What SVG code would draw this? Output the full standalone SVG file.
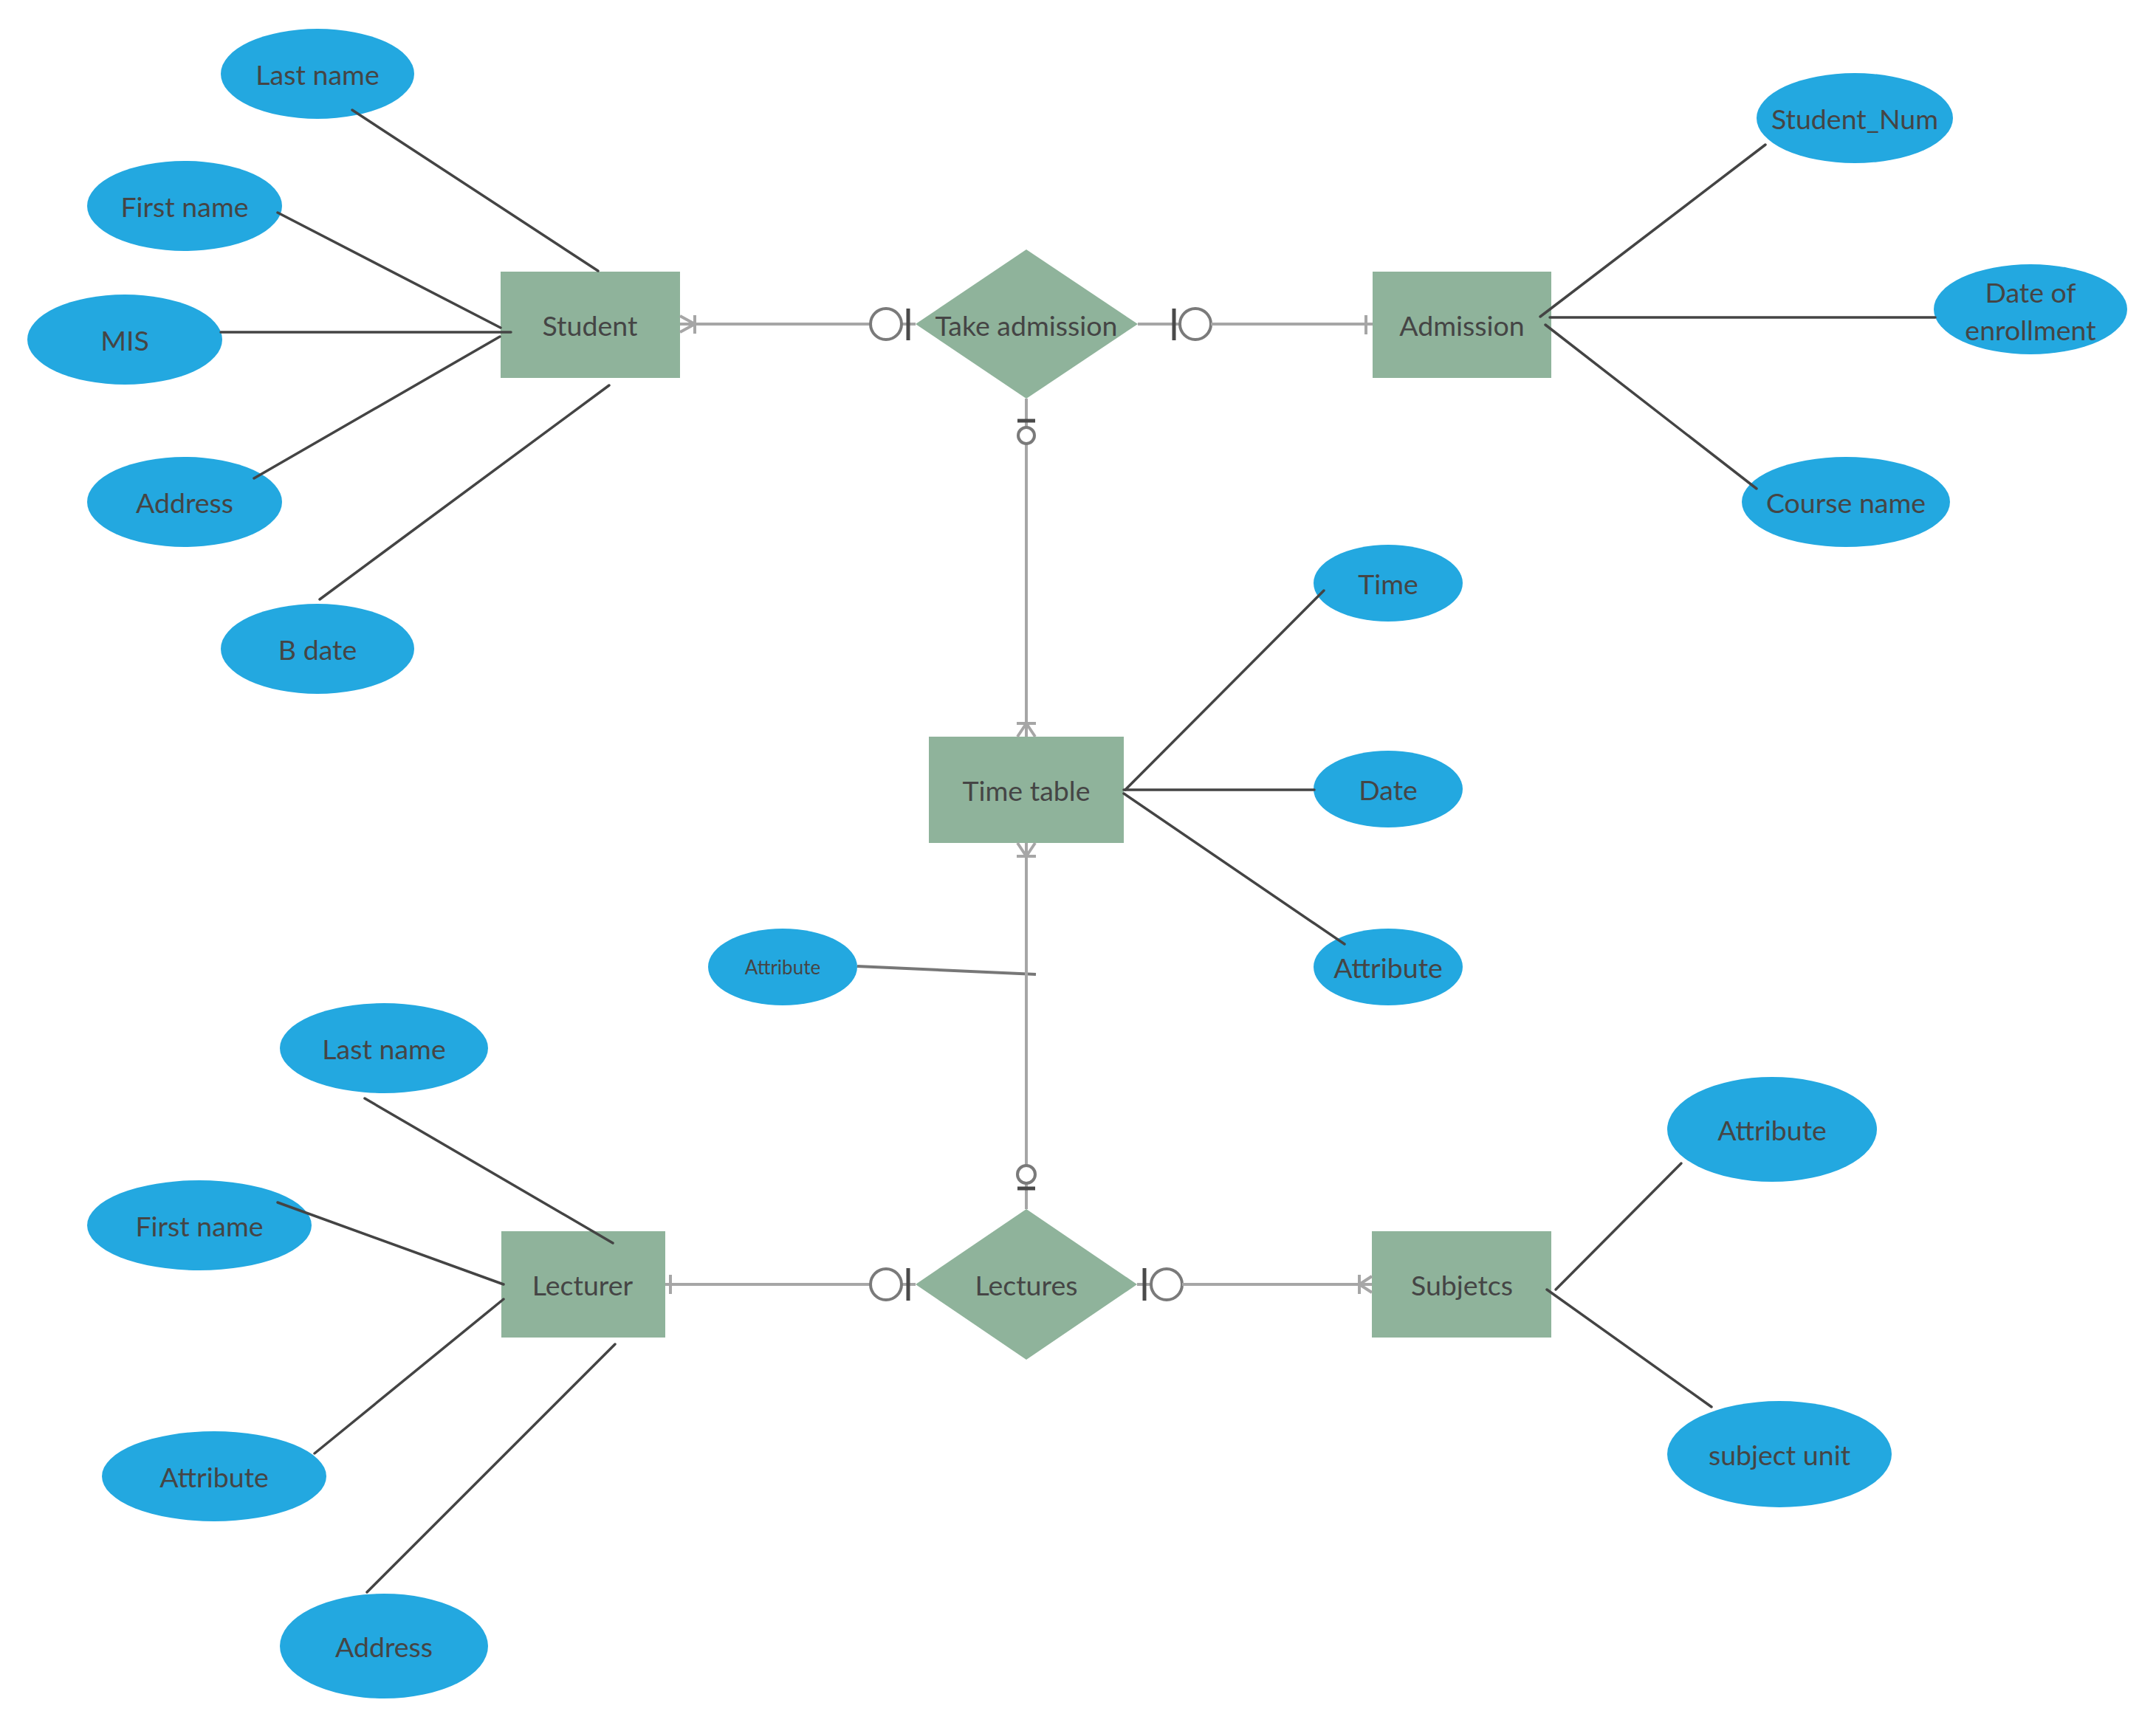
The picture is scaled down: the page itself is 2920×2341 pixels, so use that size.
<svg xmlns="http://www.w3.org/2000/svg" width="2920" height="2341" viewBox="0 0 2920 2341">
<style>
.attr{fill:#23a8e0}
.ent{fill:#8fb39b}
.t{font-family:Lato,"Open Sans","Liberation Sans",sans-serif;font-size:37.5px;fill:#454545;text-anchor:middle;dominant-baseline:central}
.ts{font-size:26px}
.al{stroke:#444;stroke-width:3.5;fill:none;stroke-linecap:round}
.rl{stroke:#a6a6a6;stroke-width:4;fill:none}
.circ{stroke:#7a7a7a;stroke-width:4;fill:#fff}
.bar{stroke:#4a4a4a;stroke-width:5}
.gbar{stroke:#a6a6a6;stroke-width:4}
</style>
<rect width="2920" height="2341" fill="#fff"/>

<!-- Entities -->
<g id="student"><rect class="ent" x="678" y="368" width="243" height="144"/><text class="t" x="799" y="440">Student</text></g>
<g id="take-admission"><polygon class="ent" points="1240,439 1390,338 1541,439 1390,540"/><text class="t" x="1390" y="440">Take  admission</text></g>
<g id="admission"><rect class="ent" x="1859" y="368" width="242" height="144"/><text class="t" x="1980" y="440">Admission</text></g>
<g id="time-table"><rect class="ent" x="1258" y="998" width="264" height="144"/><text class="t" x="1390" y="1070">Time table</text></g>
<g id="lecturer"><rect class="ent" x="679" y="1668" width="222" height="144"/><text class="t" x="789" y="1740">Lecturer</text></g>
<g id="lectures"><polygon class="ent" points="1240,1740 1390,1638 1540,1740 1390,1842"/><text class="t" x="1390" y="1740">Lectures</text></g>
<g id="subjetcs"><rect class="ent" x="1858" y="1668" width="243" height="144"/><text class="t" x="1980" y="1740">Subjetcs</text></g>

<!-- Attributes: Student -->
<g id="s-lastname"><ellipse class="attr" cx="430" cy="100" rx="131" ry="61"/><text class="t" x="430" y="100">Last name</text></g>
<g id="s-firstname"><ellipse class="attr" cx="250" cy="279" rx="132" ry="61"/><text class="t" x="250" y="279">First name</text></g>
<g id="s-mis"><ellipse class="attr" cx="169" cy="460" rx="132" ry="61"/><text class="t" x="169" y="460">MIS</text></g>
<g id="s-address"><ellipse class="attr" cx="250" cy="680" rx="132" ry="61"/><text class="t" x="250" y="680">Address</text></g>
<g id="s-bdate"><ellipse class="attr" cx="430" cy="879" rx="131" ry="61"/><text class="t" x="430" y="879">B date</text></g>

<!-- Attributes: Admission -->
<g id="a-studentnum"><ellipse class="attr" cx="2512" cy="160" rx="133" ry="61"/><text class="t" x="2512" y="160">Student_Num</text></g>
<g id="a-date"><ellipse class="attr" cx="2750" cy="419" rx="131" ry="61"/><text class="t" x="2750" y="395">Date of</text><text class="t" x="2750" y="446">enrollment</text></g>
<g id="a-course"><ellipse class="attr" cx="2500" cy="680" rx="141" ry="61"/><text class="t" x="2500" y="680">Course name</text></g>

<!-- Attributes: Time table -->
<g id="t-time"><ellipse class="attr" cx="1880" cy="790" rx="101" ry="52"/><text class="t" x="1880" y="790">Time</text></g>
<g id="t-date"><ellipse class="attr" cx="1880" cy="1069" rx="101" ry="52"/><text class="t" x="1880" y="1069">Date</text></g>
<g id="t-attr"><ellipse class="attr" cx="1880" cy="1310" rx="101" ry="52"/><text class="t" x="1880" y="1310">Attribute</text></g>
<g id="t-attr2"><ellipse class="attr" cx="1060" cy="1310" rx="101" ry="52"/><text class="t ts" x="1060" y="1310">Attribute</text></g>

<!-- Attributes: Lecturer -->
<g id="l-lastname"><ellipse class="attr" cx="520" cy="1420" rx="141" ry="61"/><text class="t" x="520" y="1420">Last name</text></g>
<g id="l-firstname"><ellipse class="attr" cx="270" cy="1660" rx="152" ry="61"/><text class="t" x="270" y="1660">First name</text></g>
<g id="l-attr"><ellipse class="attr" cx="290" cy="2000" rx="152" ry="61"/><text class="t" x="290" y="2000">Attribute</text></g>
<g id="l-address"><ellipse class="attr" cx="520" cy="2230" rx="141" ry="71"/><text class="t" x="520" y="2230">Address</text></g>

<!-- Attributes: Subjetcs -->
<g id="sub-attr"><ellipse class="attr" cx="2400" cy="1530" rx="142" ry="71"/><text class="t" x="2400" y="1530">Attribute</text></g>
<g id="sub-unit"><ellipse class="attr" cx="2410" cy="1970" rx="152" ry="72"/><text class="t" x="2410" y="1970">subject unit</text></g>

<g id="connectors">
  <!-- attribute lines: Student -->
  <line class="al" x1="477" y1="149" x2="810" y2="367"/>
  <line class="al" x1="376" y1="288" x2="678" y2="444"/>
  <line class="al" x1="299" y1="450" x2="692" y2="450"/>
  <line class="al" x1="344" y1="648" x2="677" y2="456"/>
  <line class="al" x1="433" y1="812" x2="825" y2="522"/>
  <!-- Admission -->
  <line class="al" x1="2391" y1="196" x2="2086" y2="429"/>
  <line class="al" x1="2099" y1="430" x2="2621" y2="430"/>
  <line class="al" x1="2093" y1="440" x2="2379" y2="662"/>
  <!-- Time table -->
  <line class="al" x1="1793" y1="800" x2="1524" y2="1070"/>
  <line class="al" x1="1522" y1="1070" x2="1780" y2="1070"/>
  <line class="al" x1="1522" y1="1075" x2="1821" y2="1279"/>
  <line x1="1161" y1="1309" x2="1403" y2="1320" stroke="#777" stroke-width="4"/>
  <!-- Lecturer -->
  <line class="al" x1="494" y1="1488" x2="830" y2="1684"/>
  <line class="al" x1="376" y1="1629" x2="682" y2="1740"/>
  <line class="al" x1="426" y1="1969" x2="682" y2="1760"/>
  <line class="al" x1="497" y1="2157" x2="833" y2="1821"/>
  <!-- Subjetcs -->
  <line class="al" x1="2277" y1="1576" x2="2107" y2="1747"/>
  <line class="al" x1="2095" y1="1747" x2="2318" y2="1906"/>

  <!-- Student - Take admission -->
  <line class="rl" x1="921" y1="439" x2="1179" y2="439"/>
  <polyline class="rl" points="921,428 941,439 921,450"/>
  <line class="gbar" x1="941" y1="427" x2="941" y2="452"/>
  <line class="rl" x1="1221" y1="439" x2="1240" y2="439"/>
  <circle class="circ" cx="1200" cy="439" r="21"/>
  <line class="bar" x1="1230" y1="418" x2="1230" y2="461"/>
  <!-- Take admission - Admission -->
  <line class="rl" x1="1541" y1="439" x2="1598" y2="439"/>
  <line class="bar" x1="1590" y1="418" x2="1590" y2="461"/>
  <circle class="circ" cx="1619" cy="439" r="21"/>
  <line class="rl" x1="1640" y1="439" x2="1859" y2="439"/>
  <line class="gbar" x1="1850" y1="427" x2="1850" y2="453"/>
  <!-- Take admission - Time table -->
  <line class="rl" x1="1390" y1="540" x2="1390" y2="998"/>
  <line class="bar" x1="1378" y1="570" x2="1402" y2="570"/>
  <circle class="circ" cx="1390" cy="590" r="11" stroke-width="3.5"/>
  <line class="gbar" x1="1377" y1="980" x2="1403" y2="980"/>
  <polyline class="rl" points="1378,998 1390,980 1402,998"/>
  <!-- Time table - Lectures -->
  <line class="rl" x1="1390" y1="1142" x2="1390" y2="1638"/>
  <polyline class="rl" points="1378,1142 1390,1160 1402,1142"/>
  <line class="gbar" x1="1377" y1="1160" x2="1403" y2="1160"/>
  <circle class="circ" cx="1390" cy="1591" r="12" stroke-width="3.5"/>
  <line class="bar" x1="1378" y1="1610" x2="1402" y2="1610"/>
  <!-- Lecturer - Lectures -->
  <line class="rl" x1="901" y1="1740" x2="1179" y2="1740"/>
  <line class="gbar" x1="908" y1="1727" x2="908" y2="1753"/>
  <line class="rl" x1="1221" y1="1740" x2="1240" y2="1740"/>
  <circle class="circ" cx="1200" cy="1740" r="21"/>
  <line class="bar" x1="1230" y1="1718" x2="1230" y2="1762"/>
  <!-- Lectures - Subjetcs -->
  <line class="rl" x1="1540" y1="1740" x2="1559" y2="1740"/>
  <line class="bar" x1="1550" y1="1718" x2="1550" y2="1762"/>
  <circle class="circ" cx="1580" cy="1740" r="21"/>
  <line class="rl" x1="1601" y1="1740" x2="1858" y2="1740"/>
  <polyline class="rl" points="1858,1729 1841,1740 1858,1751"/>
  <line class="gbar" x1="1841" y1="1727" x2="1841" y2="1753"/>
</g>
</svg>
